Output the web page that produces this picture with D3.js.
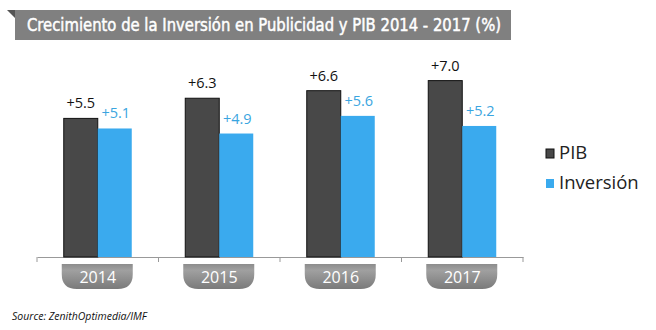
<!DOCTYPE html>
<html><head><meta charset="utf-8">
<script src="https://cdn.jsdelivr.net/npm/d3@7"></script>
<style>body{margin:0;background:#fff}svg{display:block}</style>
</head><body>
<script>
const years = ["2014","2015","2016","2017"];
const pib = [5.5, 6.3, 6.6, 7.0];
const inversion = [5.1, 4.9, 5.6, 5.2];
const seriesNames = ["PIB","Inversión"];
const title = "Crecimiento de la Inversión en Publicidad y PIB 2014 - 2017 (%)";
const source = "Source: ZenithOptimedia/IMF";

const W=656,H=330;
const svg=d3.select("body").append("svg").attr("width",W).attr("height",H);
const defs=svg.append("defs");
const g=defs.append("linearGradient").attr("id","tab").attr("x1",0).attr("x2",0).attr("y1",0).attr("y2",1);
g.append("stop").attr("offset","0%").attr("stop-color","#8c8c8c");
g.append("stop").attr("offset","25%").attr("stop-color","#a0a0a0");
g.append("stop").attr("offset","100%").attr("stop-color","#7a7a7a");

// title bar
svg.append("path").attr("d","M7,10 L15,10 L15,18 Z").attr("fill","#555");
svg.append("rect").attr("x",15).attr("y",10).attr("width",496).attr("height",30).attr("fill","#808080");
svg.append("text").attr("x",27).attr("y",31).attr("fill","#fff").attr("stroke","#fff").attr("stroke-width",0.5)
  .attr("font-family","DejaVu Sans").attr("font-size",17)
  .attr("textLength",474).attr("lengthAdjust","spacingAndGlyphs").text(title);

const x=d3.scaleBand().domain(years).range([37,523]).padding(0);
const y=d3.scaleLinear().domain([0,8]).range([257,55.4]);
const bw=34;
const colors=["#484848","#3aaaee"];
const font="Open Sans, sans-serif";

// axis
const ax=svg.append("g").attr("transform","translate(0,257)").call(d3.axisBottom(x).tickSize(0).tickFormat(""));
ax.select(".domain").attr("stroke","#999");
const edges=years.map(d=>x(d)).concat([x.range()[1]]);
svg.selectAll("line.tk").data(edges).join("line").attr("x1",d=>d).attr("x2",d=>d)
  .attr("y1",257).attr("y2",262).attr("stroke","#999");

// bars
const data=[pib,inversion];
data.forEach((vals,si)=>{
  svg.selectAll("rect.s"+si).data(years).join("rect")
    .attr("x",d=>x(d)+x.bandwidth()/2+(si===0?-bw:0))
    .attr("y",(d,i)=>y(vals[i])).attr("width",bw)
    .attr("height",(d,i)=>y(0)-y(vals[i]))
    .attr("fill",colors[si])
    .attr("stroke",si===0?"#111":"none").attr("stroke-width",1);
  svg.selectAll("text.l"+si).data(years).join("text")
    .attr("x",d=>x(d)+x.bandwidth()/2+(si===0?-bw/2:bw/2+1))
    .attr("y",(d,i)=>y(vals[i])-10)
    .attr("text-anchor","middle").attr("font-family",font).attr("font-size",14.5)
    .attr("fill",si===0?"#111":"#3aa5e0")
    .text((d,i)=>"+"+vals[i].toFixed(1));
});

// year tabs
svg.selectAll("path.tab").data(years).join("path")
  .attr("d",d=>{const c=x(d)+x.bandwidth()/2,l=c-36,r=c+35,t=264,b=289,rr=15;
    return `M${l},${t} L${r},${t} L${r},${b-rr} Q${r},${b} ${r-rr},${b} L${l+rr},${b} Q${l},${b} ${l},${b-rr} Z`;})
  .attr("fill","url(#tab)");
svg.selectAll("text.yr").data(years).join("text")
  .attr("x",d=>x(d)+x.bandwidth()/2).attr("y",283).attr("text-anchor","middle")
  .attr("font-family",font).attr("font-size",16).attr("fill","#fff").text(d=>d);

// legend
seriesNames.forEach((n,i)=>{
  const ly=149+i*30;
  svg.append("rect").attr("x",546).attr("y",ly).attr("width",8).attr("height",9)
    .attr("fill",colors[i]).attr("stroke",i===0?"#111":"none");
  svg.append("text").attr("x",559).attr("y",ly+10).attr("font-family",font).attr("font-size",18.5)
    .attr("fill","#222").text(n);
});

svg.append("text").attr("x",12).attr("y",320).attr("font-family",font).attr("font-style","italic")
  .attr("font-size",10.5).attr("fill","#111").text(source);
</script>
</body></html>
